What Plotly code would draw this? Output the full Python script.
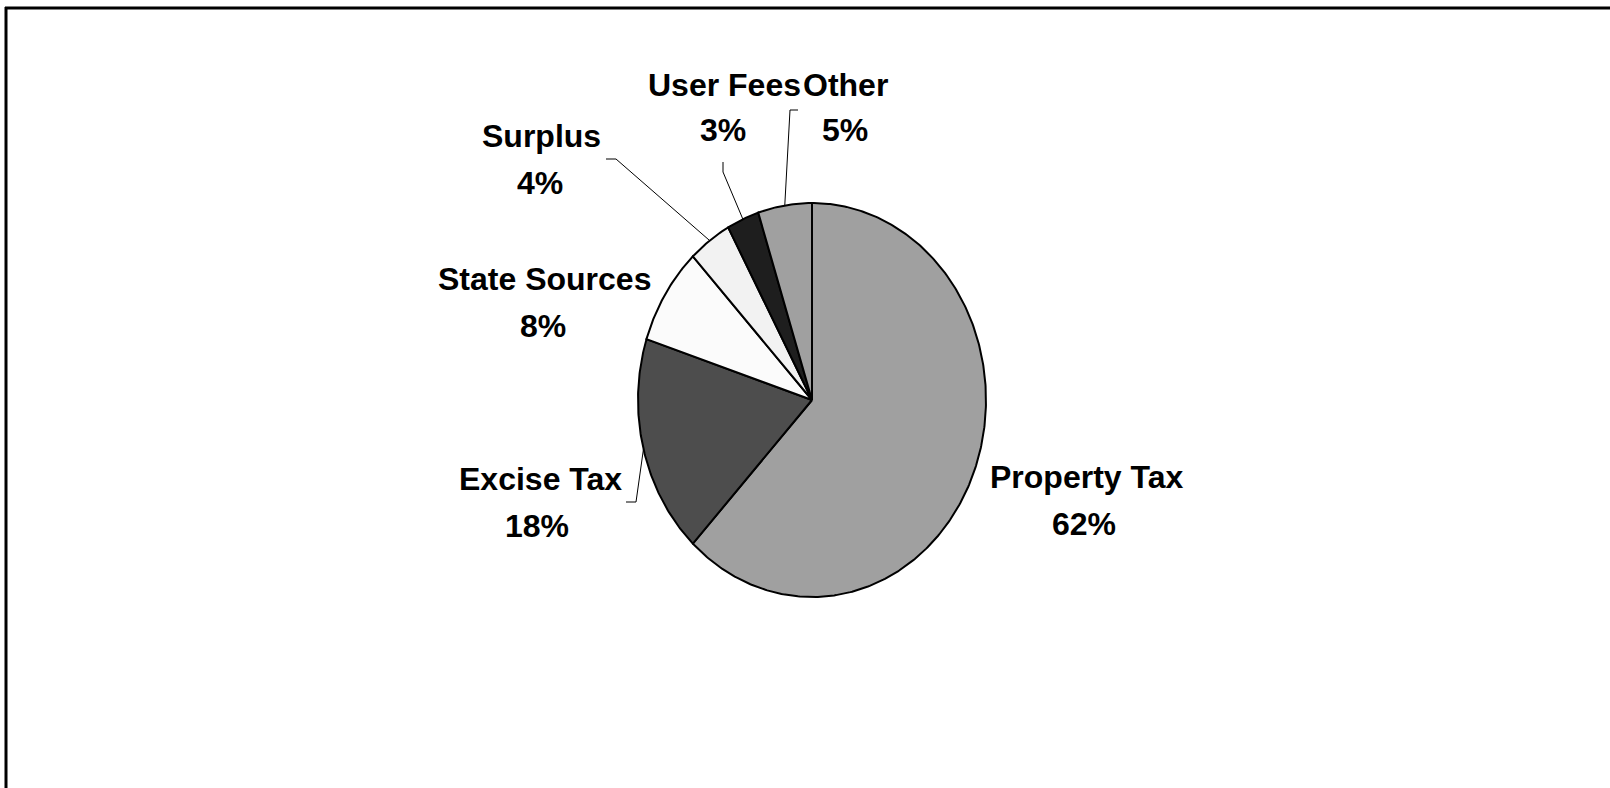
import numpy as np
import plotly.graph_objects as go

# ---- data ----
categories = ["Property Tax", "Excise Tax", "State Sources", "Surplus", "User Fees", "Other"]
values = [62, 18, 8, 4, 3, 5]
pct_labels = ["62%", "18%", "8%", "4%", "3%", "5%"]
colors = ["#A0A0A0", "#4D4D4D", "#FBFBFB", "#F2F2F2", "#1E1E1E", "#A0A0A0"]

# ---- layout geometry (pixel-based axes) ----
W, H = 1610, 788
CX, CY, RX, RY = 812, 400, 174, 197

# label centres: (name_x, name_y, pct_x, pct_y)
label_pos = {
    "Property Tax": (1086, 477, 1084, 524),
    "Excise Tax": (540, 479, 537, 526),
    "State Sources": (544, 279, 543, 326),
    "Surplus": (541, 136, 540, 183),
    "User Fees": (724, 85, 723, 130),
    "Other": (845, 85, 845, 130),
}
# leader line start points (elbow path before reaching the slice)
leaders = {
    "Excise Tax": [(626, 502), (636, 502)],
    "Surplus": [(606, 159), (616, 159)],
    "User Fees": [(723, 162), (723, 172)],
    "Other": [(798, 110), (790, 110)],
}


def pt(frac):
    th = 2 * np.pi * frac
    return CX + RX * np.sin(th), CY - RY * np.cos(th)


fig = go.Figure()
total = float(sum(values))
cum = 0.0
for cat, v, col in zip(categories, values, colors):
    f0, f1 = cum / total, (cum + v) / total
    ts = np.linspace(f0, f1, max(int(v * 6), 12))
    xs = [CX] + [pt(t)[0] for t in ts] + [CX]
    ys = [CY] + [pt(t)[1] for t in ts] + [CY]
    fig.add_trace(go.Scatter(x=xs, y=ys, fill="toself", fillcolor=col, mode="lines",
                             line=dict(color="black", width=2), hoverinfo="text",
                             text=cat, showlegend=False))
    fm = (f0 + f1) / 2
    if cat in leaders:
        mx, my = pt(fm)
        lx = [p[0] for p in leaders[cat]] + [mx]
        ly = [p[1] for p in leaders[cat]] + [my]
        fig.add_trace(go.Scatter(x=lx, y=ly, mode="lines", line=dict(color="black", width=1),
                                 hoverinfo="skip", showlegend=False))
    cum += v

font = dict(family="Liberation Sans, Arial, sans-serif", size=32, color="black")
for cat, p in zip(categories, pct_labels):
    nx, ny, px, py = label_pos[cat]
    fig.add_annotation(x=nx, y=ny, text="<b>%s</b>" % cat, showarrow=False, font=font,
                       xanchor="center", yanchor="middle")
    fig.add_annotation(x=px, y=py, text="<b>%s</b>" % p, showarrow=False, font=font,
                       xanchor="center", yanchor="middle")

# frame (top and left edges visible)
fig.add_shape(type="line", xref="x", yref="y", x0=5, y0=8, x1=W, y1=8, line=dict(color="black", width=3))
fig.add_shape(type="line", xref="x", yref="y", x0=6, y0=7, x1=6, y1=H, line=dict(color="black", width=3))

fig.update_layout(
    width=W, height=H, margin=dict(l=0, r=0, t=0, b=0),
    paper_bgcolor="white", plot_bgcolor="white",
    xaxis=dict(range=[0, W], visible=False, fixedrange=True),
    yaxis=dict(range=[H, 0], visible=False, fixedrange=True),
)
fig.write_html("out.html")
